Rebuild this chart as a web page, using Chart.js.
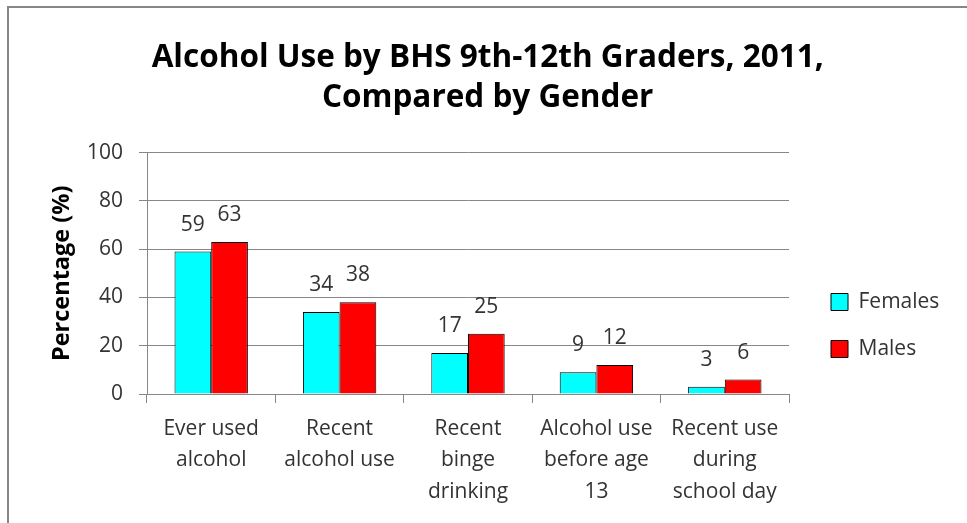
<!DOCTYPE html>
<html>
<head>
<meta charset="utf-8">
<script src="https://cdn.jsdelivr.net/npm/chart.js@4/dist/chart.umd.min.js"></script>
<style>
  html, body { margin: 0; padding: 0; background: #fff; }
  #wrap { width: 967px; height: 523px; }
</style>
</head>
<body>
<div id="wrap"><canvas id="c" width="967" height="523"></canvas></div>
<script>
// ---- data ----
const categories = [
  ["Ever used", "alcohol"],
  ["Recent", "alcohol use"],
  ["Recent", "binge", "drinking"],
  ["Alcohol use", "before age", "13"],
  ["Recent use", "during", "school day"]
];
const femalesValues = [59, 34, 17, 9, 3];
const malesValues = [63, 38, 25, 12, 6];
const seriesNames = ["Females", "Males"];
const titleLines = ["Alcohol Use by BHS 9th-12th Graders, 2011,", "Compared by Gender"];
const yAxisTitle = "Percentage (%)";
const yTicks = { min: 0, max: 100, step: 20 };

const FONT = "'Open Sans', Lato, sans-serif";
const TXT = "#333333";
const GRID = "#878787";
const PLOT_LEFT = 147;
const PLOT_RIGHT = 789;
const PAD_LEFT = 42;

const borderPlugin = {
  id: 'frame',
  beforeDraw(chart) {
    const ctx = chart.ctx;
    ctx.save();
    ctx.fillStyle = '#fff';
    ctx.fillRect(0, 0, chart.width, chart.height);
    ctx.strokeStyle = '#868686';
    ctx.lineWidth = 2;
    ctx.strokeRect(8, 7, 1000, 600);
    ctx.restore();
    // place legend like the reference
    const lg = chart.legend;
    if (lg) {
      const pad = lg.options.labels.padding;
      const dx = 831 - (lg.left + pad);
      lg.left += dx; lg.right += dx;
      const h = lg.bottom - lg.top;
      const itemH = Math.max(lg.options.labels.font.size, lg.options.labels.boxHeight);
      lg.top = 302 - pad - itemH / 2;
      lg.bottom = lg.top + h;
    }
  }
};

const valueLabels = {
  id: 'valueLabels',
  afterDatasetsDraw(chart) {
    const ctx = chart.ctx;
    ctx.save();
    ctx.font = "21px " + FONT;
    ctx.fillStyle = TXT;
    ctx.textAlign = 'center';
    ctx.textBaseline = 'middle';
    chart.data.datasets.forEach((ds, i) => {
      const meta = chart.getDatasetMeta(i);
      meta.data.forEach((bar, j) => {
        ctx.fillText(String(ds.data[j]), bar.x, bar.y - 27);
      });
    });
    ctx.restore();
  }
};

const chart = new Chart(document.getElementById('c'), {
  type: 'bar',
  data: {
    labels: categories,
    datasets: [
      { label: seriesNames[0], data: femalesValues, backgroundColor: '#00FFFF', borderColor: '#000', borderWidth: 1 },
      { label: seriesNames[1], data: malesValues, backgroundColor: '#FF0000', borderColor: '#000', borderWidth: 1 }
    ]
  },
  options: {
    responsive: false,
    devicePixelRatio: 1,
    animation: false,
    layout: { padding: { left: PAD_LEFT, right: 0, top: 0, bottom: 0 } },
    datasets: { bar: { categoryPercentage: 2 / 3.5, barPercentage: 1 } },
    plugins: {
      tooltip: { enabled: false },
      title: {
        display: true,
        text: titleLines,
        color: '#000',
        font: { family: FONT, size: 31.5, weight: 'bold', lineHeight: 1.28 },
        padding: { top: 38, bottom: 34 }
      },
      legend: {
        position: 'right',
        align: 'start',
        labels: {
          boxWidth: 17, boxHeight: 17,
          padding: 26,
          color: TXT,
          font: { family: FONT, size: 21 }
        }
      }
    },
    scales: {
      x: {
        grid: { drawOnChartArea: false, drawTicks: true, tickLength: 9, color: GRID, offset: true },
        border: { display: true, color: GRID, width: 1 },
        ticks: {
          color: TXT, padding: 10, maxRotation: 0, autoSkip: false,
          font: { family: FONT, size: 21, lineHeight: 1.5 }
        },
        afterFit(scale) { scale.height = 129; }
      },
      y: {
        min: yTicks.min, max: yTicks.max,
        grid: { color: GRID, tickLength: 8, drawTicks: true },
        border: { display: true, color: GRID, width: 1 },
        ticks: {
          stepSize: yTicks.step, color: TXT, padding: 16,
          font: { family: FONT, size: 21 }
        },
        title: {
          display: true, text: yAxisTitle, color: '#000',
          font: { family: FONT, size: 23.5, weight: 'bold' },
          padding: { top: 6, bottom: 0 }
        },
        afterFit(scale) { scale.width = PLOT_LEFT - PAD_LEFT; }
      }
    }
  },
  plugins: [borderPlugin, valueLabels]
});
// align the plot's right edge with the reference
const diff = chart.chartArea.right - PLOT_RIGHT;
if (diff !== 0) {
  chart.options.layout.padding.right += diff;
  chart.update();
}
</script>
</body>
</html>
